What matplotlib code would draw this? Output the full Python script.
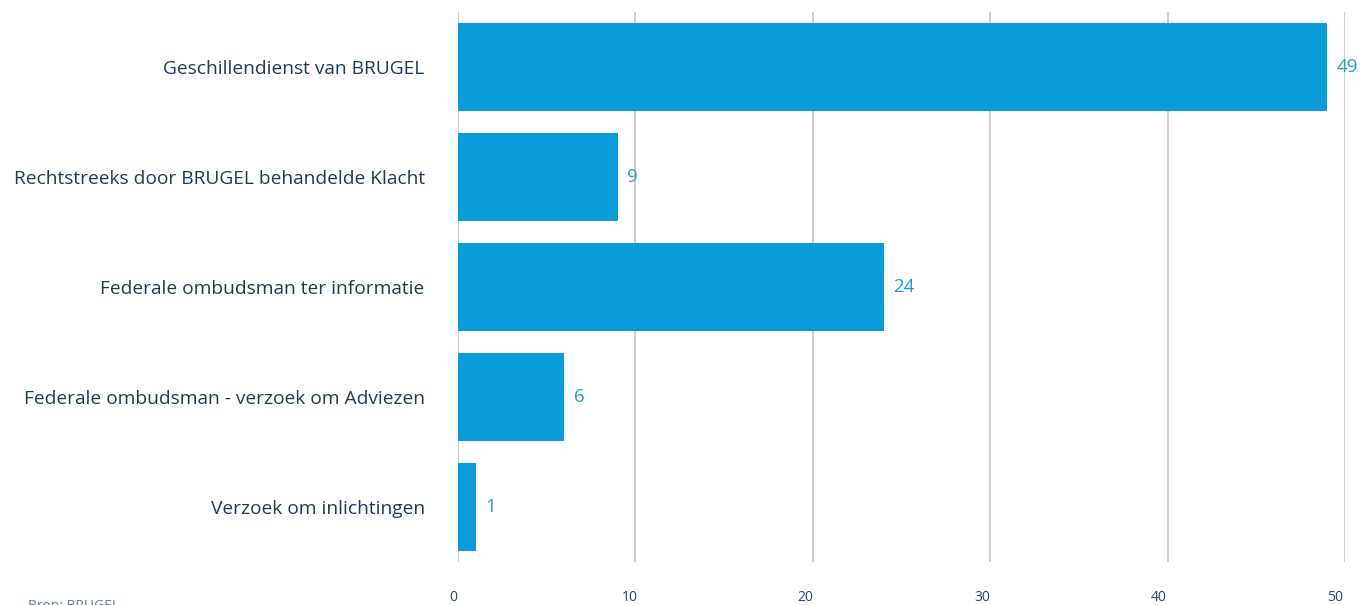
import matplotlib
matplotlib.use("Agg")
import matplotlib.pyplot as plt
import matplotlib.transforms as mtransforms

categories = [
    "Geschillendienst van BRUGEL",
    "Rechtstreeks door BRUGEL behandelde Klacht",
    "Federale ombudsman ter informatie",
    "Federale ombudsman - verzoek om Adviezen",
    "Verzoek om inlichtingen",
]
values = [49, 9, 24, 6, 1]
xticks = [0, 10, 20, 30, 40, 50]

plt.rcParams['font.family'] = ['Open Sans', 'DejaVu Sans']

fig = plt.figure(figsize=(13.6, 6.05), dpi=100)
ax = fig.add_axes([458/1360, 43/605, (1345-458)/1360, (562-12)/605])

bar_color = "#0a9cd8"
ypos = list(range(len(categories)))
ax.barh(ypos, values, height=0.8, color=bar_color, zorder=3)
ax.set_ylim(len(categories) - 0.5, -0.5)
ax.set_xlim(0, 50)

for y, v in zip(ypos, values):
    ax.annotate(str(v), (v, y), xytext=(7, 0), textcoords="offset points",
                ha="left", va="center", fontsize=13.5, color="#1a9fd9")

ax.set_yticks(ypos)
ax.set_yticklabels(categories, fontsize=13.8, color="#1f3a5f")
ax.tick_params(axis="y", length=0, pad=24)
ax.set_xticks(xticks)
ax.set_xticklabels([str(t) for t in xticks], fontsize=10, color="#2b4170")
ax.tick_params(axis="x", length=0, pad=20)
for i, lbl in enumerate(ax.get_xticklabels()):
    lbl.set_transform(lbl.get_transform() + mtransforms.ScaledTranslation(-(5 + i) / 100, 0, fig.dpi_scale_trans))

ax.grid(axis="x", color="#cccccc", linewidth=1.3, zorder=0)
ax.grid(axis="y", visible=False)
for s in ax.spines.values():
    s.set_visible(False)

fig.text(28/1360, 6/605, "Bron: BRUGEL", fontsize=10, color="#5b7fa6", ha="left", va="top")

fig.savefig("out.png", dpi=100)
